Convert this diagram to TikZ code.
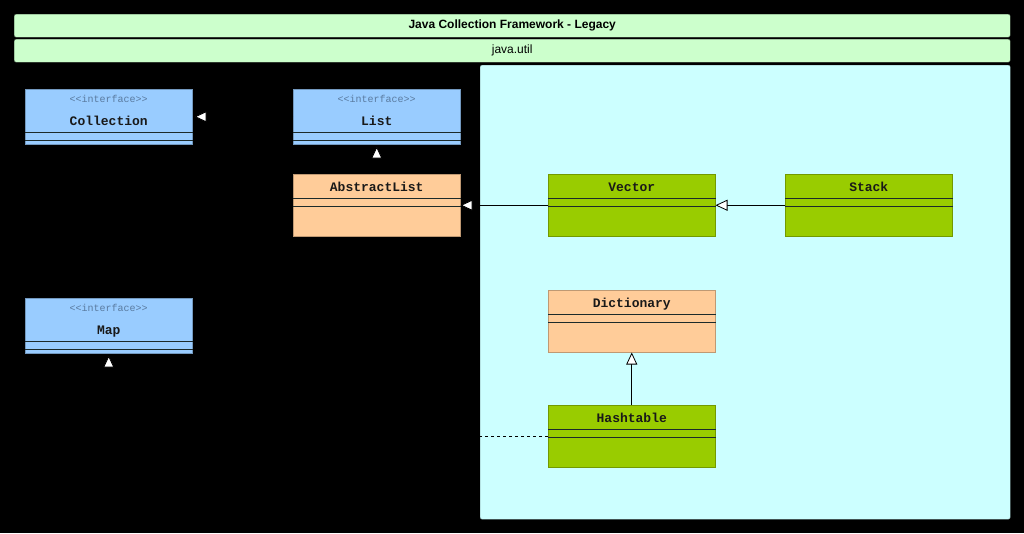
\documentclass[tikz,border=0pt]{standalone}
\usepackage{fontspec}
\setmainfont{Liberation Sans}
\setsansfont{Liberation Sans}
\setmonofont{Liberation Mono}
\usepackage{xcolor}
\usepackage{tikz}
\usetikzlibrary{calc,arrows.meta,positioning}
\definecolor{bargreen}{HTML}{CCFFCC}
\definecolor{pkgcyan}{HTML}{CCFFFF}
\definecolor{ifaceblue}{HTML}{99CCFF}
\definecolor{absorange}{HTML}{FFCC99}
\definecolor{concgreen}{HTML}{99CC00}
\definecolor{stereogray}{HTML}{5A7BA0}
\definecolor{linedark}{HTML}{1C2A2A}
\tikzset{
  barbox/.style={draw=black!60!bargreen, fill=bargreen, rounded corners=2pt, anchor=north west,
                 minimum width=996pt, minimum height=23pt, inner sep=0pt, font=\sffamily\fontsize{12}{14}\selectfont},
  pkgbox/.style={draw=black!30!pkgcyan, fill=pkgcyan, rounded corners=2pt, anchor=north west,
                 minimum width=530pt, minimum height=454pt, inner sep=0pt},
  umlbox/.style={draw=#1!75!black, fill=#1, anchor=north west, minimum width=167pt,
                 inner sep=0pt, line width=0.5pt},
  stereo/.style={anchor=base, inner sep=0pt, text=stereogray, font=\ttfamily\fontsize{10}{12}\selectfont},
  cname/.style={anchor=base, inner sep=0pt, text=black!90, font=\ttfamily\bfseries\fontsize{13}{15}\selectfont},
  divider/.style={draw=linedark, line width=1pt},
  inherit/.style={draw=black, line width=0.8pt, -{Triangle[open, length=12pt, width=11pt, fill=white]}},
  realize/.style={inherit, dashed},
}

\begin{document}
\begin{tikzpicture}[x=1pt, y=-1pt]
  \fill[black] (0,0) rectangle (1024,533);
  \useasboundingbox (0,0) rectangle (1024,533);
  % header bars and package
  \node[barbox, font=\sffamily\bfseries\fontsize{12}{14}\selectfont] (title) at (14,14) {Java Collection Framework - Legacy};
  \node[barbox] (pkgname) at (14,39) {java.util};
  \node[pkgbox] (pkg) at (480,65) {};
  % interfaces
  \foreach \id/\txt/\x/\y in {coll/Collection/25/89, list/List/293/89, map/Map/25/298} {
    \node[umlbox=ifaceblue, minimum height=55pt] (\id) at (\x,\y) {};
    \node[stereo] (\id-st) at ($(\id.north)+(0,13.5)$) {\textless\textless interface\textgreater\textgreater};
    \node[cname] (\id-nm) at ($(\id.north)+(0,36)$) {\txt};
    \draw[divider] ($(\id.north west)+(0,43)$) -- ($(\id.north east)+(0,43)$);
    \draw[divider] ($(\id.north west)+(0,51)$) -- ($(\id.north east)+(0,51)$);
  }
  % classes
  \foreach \id/\txt/\x/\y/\col in {alist/AbstractList/293/174/absorange, vector/Vector/548/174/concgreen,
                                  stack/Stack/785/174/concgreen, dict/Dictionary/548/290/absorange,
                                  htable/Hashtable/548/405/concgreen} {
    \node[umlbox=\col, minimum height=62pt] (\id) at (\x,\y) {};
    \node[cname] (\id-nm) at ($(\id.north)+(0,17)$) {\txt};
    \draw[divider] ($(\id.north west)+(0,24)$) -- ($(\id.north east)+(0,24)$);
    \draw[divider] ($(\id.north west)+(0,32)$) -- ($(\id.north east)+(0,32)$);
  }
  % relations
  \draw[inherit, shorten >=2pt] (list.west) -- (coll.east);
  \draw[inherit, shorten >=2pt] (alist.north) -- (list.south);
  \draw[inherit] (vector.west) -- (alist.east);
  \draw[inherit] (stack.west) -- (vector.east);
  \draw[inherit] (htable.north) -- (dict.south);
  \draw[realize, shorten >=2pt] (htable.west) -| (map.south);
\end{tikzpicture}
\end{document}
